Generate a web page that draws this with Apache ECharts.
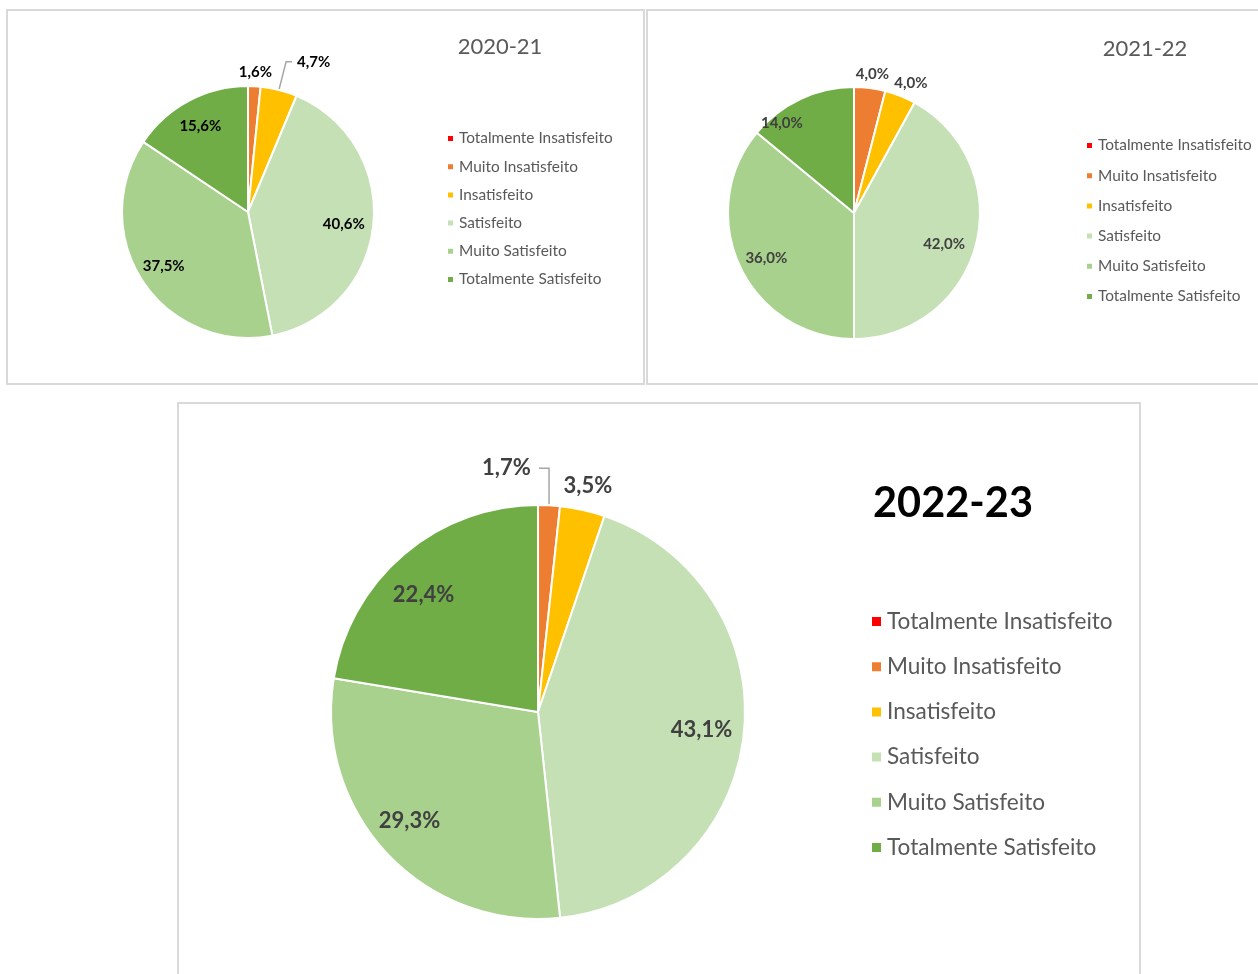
<!DOCTYPE html>
<html>
<head>
<meta charset="utf-8">
<script src="https://cdn.jsdelivr.net/npm/echarts@6/dist/echarts.min.js"></script>
<style>
  html, body { margin: 0; padding: 0; background: #fff; }
  #chart { width: 1258px; height: 974px; }
</style>
</head>
<body>
<div id="chart"></div>
<script>
var categories = ['Totalmente Insatisfeito', 'Muito Insatisfeito', 'Insatisfeito',
                  'Satisfeito', 'Muito Satisfeito', 'Totalmente Satisfeito'];
var years = ['2020-21', '2021-22', '2022-23'];
var values2021 = [0, 1.6, 4.7, 40.6, 37.5, 15.6];
var values2122 = [0, 4.0, 4.0, 42.0, 36.0, 14.0];
var values2223 = [0, 1.7, 3.5, 43.1, 29.3, 22.4];
var colors = ['#FF0000', '#ED7D31', '#FFC000', '#C5E0B4', '#A9D18E', '#70AD47'];

var font = 'Lato, "Open Sans", sans-serif';
var myChart = echarts.init(document.getElementById('chart'));

function pct(v) {
    return v.toFixed(1).replace('.', ',') + '%';
}

// layout of the three panels (styling only): leader lines and label nudges
var panels = [
    { values: values2021, center: [248, 212], r: 126, labelSize: 15, labelColor: '#000000',
      lines: { 'Insatisfeito': [29, 6] }, plain: 8,
      nudge: { 'Muito Insatisfeito': [-21, -6], 'Satisfeito': [-5, 2], 'Totalmente Satisfeito': [0, 4], 'Muito Satisfeito': [0, -2] },
      title: { left: 495, top: 31, size: 22, weight: 'normal', color: '#595959' },
      legend: { left: 441, top: 126, size: 15.4, gap: 13.2 } },
    { values: values2122, center: [854, 213], r: 126, labelSize: 15, labelColor: '#404040',
      lines: {}, plain: 8,
      nudge: { 'Muito Insatisfeito': [-20, -6], 'Insatisfeito': [-14, -5], 'Satisfeito': [-8, 6],
               'Muito Satisfeito': [4, 2], 'Totalmente Satisfeito': [-29, 2] },
      title: { left: 1140, top: 33, size: 22, weight: 'normal', color: '#595959' },
      legend: { left: 1080, top: 133, size: 15.4, gap: 15.2 } },
    { values: values2223, center: [538, 712], r: 207, labelSize: 22, labelColor: '#404040',
      lines: { 'Muito Insatisfeito': [37, -12] }, plain: 14,
      nudge: { 'Muito Insatisfeito': [-62, 0], 'Insatisfeito': [-27, -10], 'Totalmente Satisfeito': [-8, 8], 'Muito Satisfeito': [-9, -4] },
      title: { left: 948, top: 478, size: 41.5, weight: 'bold', color: '#000000' },
      legend: { left: 865, top: 605, size: 22.6, gap: 22.2 } }
];

var series = [];
var titles = [];
var legends = [];

panels.forEach(function (p, k) {
    function nudger(params) {
        var n = p.nudge[categories[params.dataIndex]];
        return n ? { dx: n[0], dy: n[1], hideOverlap: false } : { hideOverlap: false };
    }
    var mainData = categories.map(function (c, i) {
        var v = p.values[i];
        var small = v > 0 && v < 5;
        var line = p.lines[c];
        return {
            name: c,
            value: v,
            label: {
                show: small,
                position: 'outside',
                formatter: pct(v),
                fontFamily: font,
                fontWeight: 'bold',
                fontSize: p.labelSize,
                color: p.labelColor
            },
            labelLine: {
                show: !!(small && line),
                length: line ? line[0] : p.plain,
                length2: line ? line[1] : 0
            }
        };
    });
    series.push({
        type: 'pie',
        center: p.center,
        radius: [0, p.r],
        startAngle: 90,
        clockwise: true,
        avoidLabelOverlap: false,
        animation: false,
        itemStyle: { borderColor: '#ffffff', borderWidth: 2 },
        color: colors,
        labelLine: { lineStyle: { color: '#A6A6A6', width: 1.5 } },
        labelLayout: nudger,
        emphasis: { disabled: true },
        data: mainData
    });
    // transparent ring carrying the inside labels at ~0.78 r
    series.push({
        type: 'pie',
        center: p.center,
        radius: [p.r * 0.56, p.r],
        startAngle: 90,
        clockwise: true,
        silent: true,
        animation: false,
        itemStyle: { color: 'rgba(0,0,0,0)', borderWidth: 0 },
        label: {
            position: 'inside',
            fontFamily: font,
            fontWeight: 'bold',
            fontSize: p.labelSize,
            color: p.labelColor,
            formatter: function (d) { return d.value >= 5 ? pct(d.value) : ''; }
        },
        labelLayout: nudger,
        emphasis: { disabled: true },
        data: categories.map(function (c, i) { return { name: c, value: p.values[i] }; })
    });
    titles.push({
        text: years[k],
        left: p.title.left,
        top: p.title.top,
        textAlign: 'center',
        textStyle: {
            fontFamily: font,
            fontSize: p.title.size,
            fontWeight: p.title.weight,
            color: p.title.color
        }
    });
    legends.push({
        orient: 'vertical',
        left: p.legend.left,
        top: p.legend.top,
        itemWidth: Math.round(p.legend.size * 0.47),
        itemHeight: Math.round(p.legend.size * 0.47),
        itemGap: p.legend.gap,
        icon: 'rect',
        selectedMode: false,
        data: categories,
        textStyle: { fontFamily: font, fontSize: p.legend.size, color: '#595959' }
    });
});

option = {
    backgroundColor: '#ffffff',
    title: titles,
    legend: legends,
    graphic: [
        { type: 'rect', shape: { x: 7, y: 10, width: 637, height: 374 }, style: { fill: 'none', stroke: '#D9D9D9', lineWidth: 2 } },
        { type: 'rect', shape: { x: 647, y: 10, width: 620, height: 374 }, style: { fill: 'none', stroke: '#D9D9D9', lineWidth: 2 } },
        { type: 'rect', shape: { x: 178, y: 403, width: 962, height: 580 }, style: { fill: 'none', stroke: '#D9D9D9', lineWidth: 2 } }
    ],
    series: series
};

myChart.setOption(option);
</script>
</body>
</html>
